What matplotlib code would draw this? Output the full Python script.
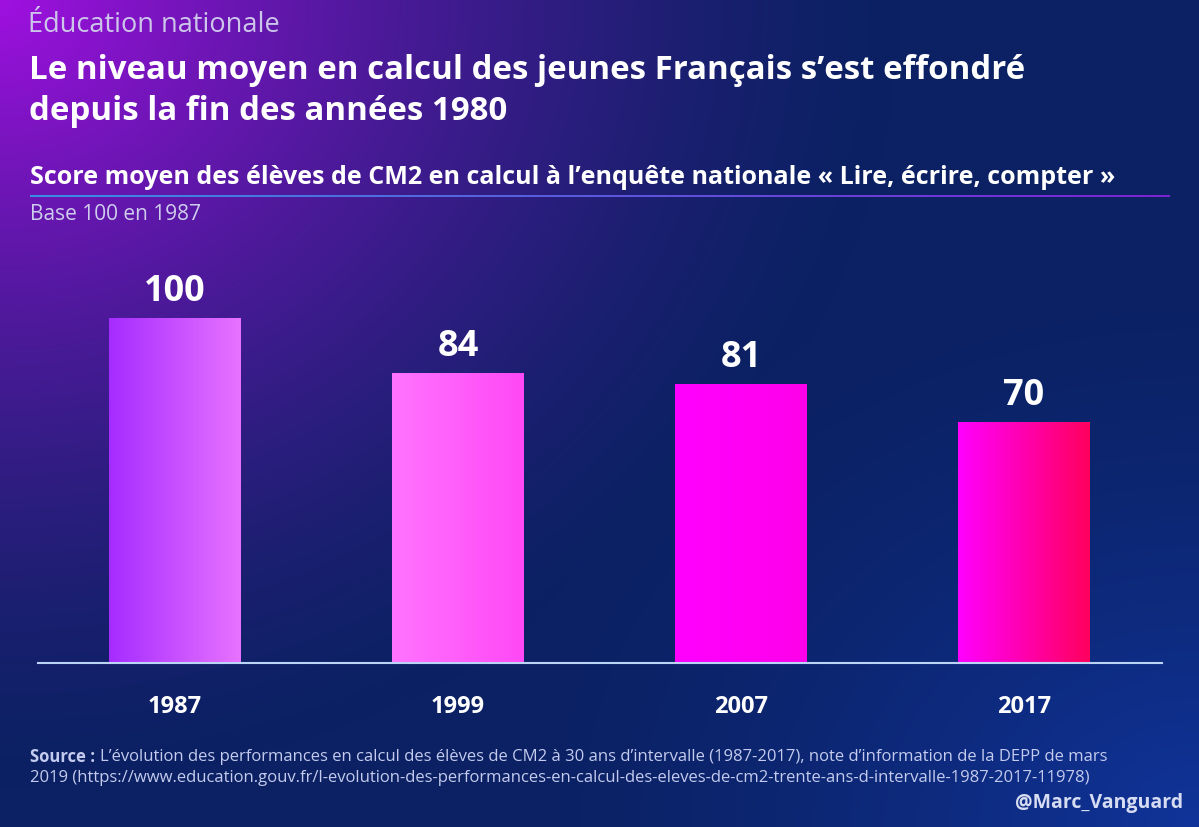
import numpy as np
import matplotlib
matplotlib.use("Agg")
import matplotlib.pyplot as plt
from matplotlib.colors import to_rgb

years = ["1987", "1999", "2007", "2017"]
scores = [100, 84, 81, 70]

kicker = "Éducation nationale"
title = "Le niveau moyen en calcul des jeunes Français s’est effondré\ndepuis la fin des années 1980"
subtitle = "Score moyen des élèves de CM2 en calcul à l’enquête nationale « Lire, écrire, compter »"
unit_note = "Base 100 en 1987"
source_rest = ("L’évolution des performances en calcul des élèves de CM2 à 30 ans d’intervalle (1987-2017), "
               "note d’information de la DEPP de mars")
source_line2 = ("2019 (https://www.education.gouv.fr/l-evolution-des-performances-en-calcul-des-eleves-de-cm2-"
                "trente-ans-d-intervalle-1987-2017-11978)")
signature = "@Marc_Vanguard"

# couleurs des barres (gauche -> droite de chaque barre)
bar_grads = [("#a52cff", "#e872ff"), ("#ff74ff", "#ff48f6"),
             ("#ff00ff", "#ff00ea"), ("#ff00ff", "#ff005e")]

plt.rcParams["font.family"] = ["Open Sans", "DejaVu Sans"]

W, H = 1199, 828
fig = plt.figure(figsize=(W / 100, H / 100), dpi=100)

# fond en dégradé
bg = fig.add_axes([0, 0, 1, 1], zorder=-10)
bg.set_axis_off()
yy, xx = np.mgrid[0:H, 0:W]
navy = np.array(to_rgb("#0b2163"))
purple = np.array(to_rgb("#a010e0"))
blue = np.array(to_rgb("#10349a"))
d = np.sqrt((xx / (0.75 * W)) ** 2 + (yy / (0.95 * H)) ** 2)
wp = np.clip(1 - d, 0, 1) ** 1.5
db = np.sqrt(((W - xx) / (0.6 * W)) ** 2 + ((H - yy) / (0.7 * H)) ** 2)
wb = np.clip(1 - db, 0, 1) ** 1.5
img = navy[None, None, :] * (1 - wp[..., None]) + purple[None, None, :] * wp[..., None]
img = img * (1 - wb[..., None]) + blue[None, None, :] * wb[..., None]
bg.imshow(img, extent=(0, W, H, 0), aspect="auto")

# soulignement du sous-titre
line_grad = np.linspace(0, 1, 300)
c1, c2 = np.array(to_rgb("#3a8ee6")), np.array(to_rgb("#7d22d2"))
line_img = (c1[None, :] * (1 - line_grad[:, None]) + c2[None, :] * line_grad[:, None])[None, :, :]
bg.imshow(line_img, extent=(30, 1170, 198, 196), aspect="auto")
bg.set_xlim(0, W)
bg.set_ylim(H, 0)

# textes
fig.text(28 / W, 1 - 25 / H, kicker, color="#cdc6ea", fontsize=19.5, fontweight="normal", va="center")
fig.text(29 / W, 1 - 91 / H, title, color="white", fontsize=23.8, fontweight="bold", va="center",
         linespacing=1.3)
fig.text(30 / W, 1 - 178 / H, subtitle, color="white", fontsize=18, fontweight="bold", va="center")
fig.text(30 / W, 1 - 215 / H, unit_note, color="#cfcdec", fontsize=15, fontweight="normal", va="center")

src_col = "#c4cbee"
t_src = fig.text(30 / W, 1 - 757 / H, "Source :", color=src_col, fontsize=12, fontweight="bold", va="center")
fig.canvas.draw()
bb = t_src.get_window_extent()
fig.text((bb.x1 + 5) / W, 1 - 757 / H, source_rest, color=src_col, fontsize=12, va="center")
fig.text(30 / W, 1 - 778 / H, source_line2, color=src_col, fontsize=12, va="center")
fig.text(1183 / W, 1 - 803 / H, signature, color="#d6dcf2", fontsize=14, fontweight="bold",
         va="center", ha="right")

# graphique
ax_top = 240
ax = fig.add_axes([38 / W, (H - 664) / H, 1124 / W, (664 - ax_top) / H])
ax.patch.set_alpha(0)
x = np.arange(len(years))
bars = ax.bar(x, scores, width=0.463, color="none", edgecolor="none")
ymax = 100 * (664 - ax_top) / 345

for b, (ca, cb), v in zip(bars, bar_grads, scores):
    a = np.array(to_rgb(ca))
    c = np.array(to_rgb(cb))
    t = np.linspace(0, 1, 200)
    grad = (a[None, :] * (1 - t[:, None]) + c[None, :] * t[:, None])[None, :, :]
    x0, w, h = b.get_x(), b.get_width(), b.get_height()
    im = ax.imshow(grad, extent=(x0, x0 + w, 0, h), aspect="auto", zorder=2)
    im.set_clip_path(b)
    ax.text(x0 + w / 2, h + 2.6, str(v), color="white", fontsize=26, fontweight="bold",
            ha="center", va="bottom")
ax.set_xlim(-0.484, 3.488)
ax.set_ylim(0, ymax)

ax.set_xticks(x)
ax.set_xticklabels(years, color="white", fontsize=17, fontweight="bold")
ax.tick_params(axis="x", length=0, pad=22)
ax.set_yticks([])
for s in ["top", "right", "left"]:
    ax.spines[s].set_visible(False)
ax.spines["bottom"].set_color("#b9d4f4")
ax.spines["bottom"].set_linewidth(1.5)
ax.spines["bottom"].set_zorder(3)

fig.savefig("out.png", dpi=100)
